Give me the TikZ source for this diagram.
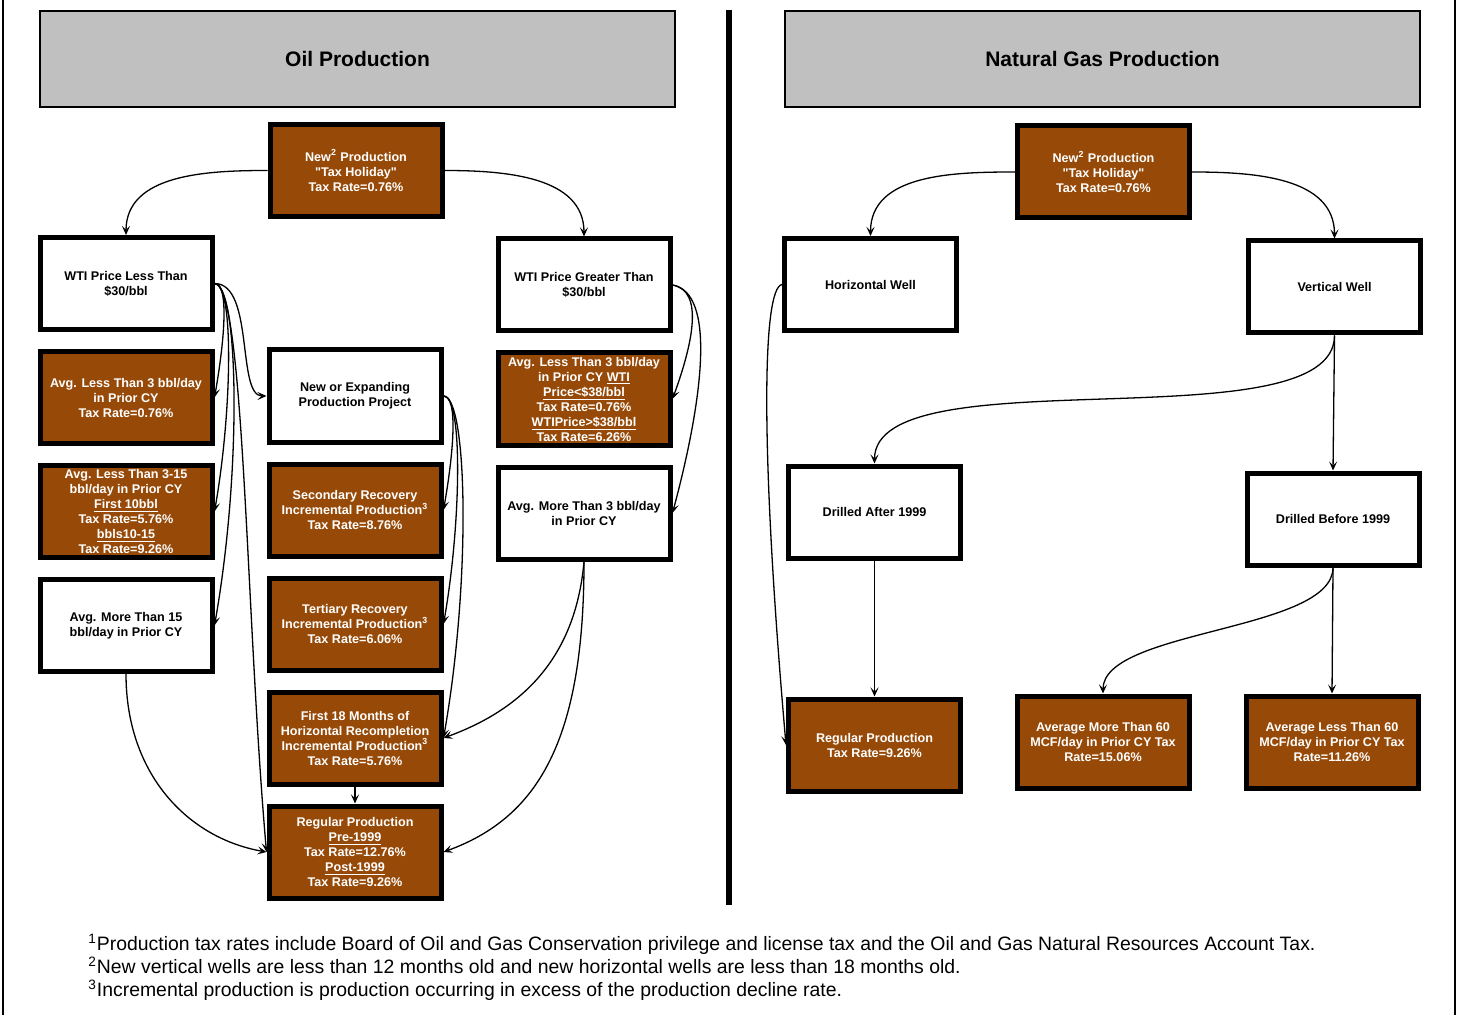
\documentclass[tikz,border=0pt]{standalone}
\usepackage{fontspec}
\setmainfont{Liberation Sans}[Ligatures=TeXOff]
\usepackage{xcolor}
\usepackage{tikz}
\usetikzlibrary{arrows.meta,positioning}

\definecolor{rustfill}{HTML}{974A08}
\definecolor{headgray}{HTML}{C0C0C0}

\begin{document}
\begin{tikzpicture}[
    x=0.5pt, y=-0.5pt,
    node distance=8.5pt,
    box/.style={rectangle, draw=black, line width=2.5pt, align=center, inner sep=1pt, minimum width=86pt, minimum height=46pt, font=\fontsize{6.3}{7.5}\selectfont\bfseries},
    brownbox/.style={box, fill=rustfill, text=white},
    whitebox/.style={box, fill=white, text=black},
    headbox/.style={rectangle, draw=black, line width=1pt, fill=headgray, minimum width=317.5pt, minimum height=48pt, font=\fontsize{10.5}{12}\selectfont\bfseries},
    arrow/.style={-{Stealth[length=4.5pt, width=4pt, inset=2pt]}, line width=0.65pt}
]
    \useasboundingbox (0,0) rectangle (1459,1015);
    \draw [line width=1pt] (3,0) -- (3,1015);
    \draw [line width=1pt] (1455,0) -- (1455,1015);
    \draw [line width=3pt] (729,10) -- (729,905);

    % headers
    \node [headbox] (oilhead) at (357.5,59) {Oil Production};
    \node [headbox] (gashead) at (1102.5,59) {Natural Gas Production};

    % oil side
    \node [brownbox] (oilnew) at (356,170.5) {New\textsuperscript{2} Production\\"Tax Holiday"\\Tax Rate=0.76\%};
    \node [whitebox] (wtiless) at (126,283.5) {WTI Price Less Than\\\$30/bbl};
    \node [brownbox, below=of wtiless] (lessthree) {Avg. Less Than 3 bbl/day\\in Prior CY\\Tax Rate=0.76\%};
    \node [brownbox, below=of lessthree] (rangebox) {Avg. Less Than 3-15\\bbl/day in Prior CY\\\underline{First 10bbl}\\Tax Rate=5.76\%\\\underline{bbls10-15}\\Tax Rate=9.26\%};
    \node [whitebox, below=of rangebox] (morefifteen) {Avg. More Than 15\\bbl/day in Prior CY};

    \node [whitebox] (newexp) at (355,396) {New or Expanding\\Production Project};
    \node [brownbox, below=of newexp] (secondary) {Secondary Recovery\\Incremental Production\textsuperscript{3}\\Tax Rate=8.76\%};
    \node [brownbox, below=of secondary] (tertiary) {Tertiary Recovery\\Incremental Production\textsuperscript{3}\\Tax Rate=6.06\%};
    \node [brownbox, below=of tertiary] (horizrec) {First 18 Months of\\Horizontal Recompletion\\Incremental Production\textsuperscript{3}\\Tax Rate=5.76\%};
    \node [brownbox, below=of horizrec] (oilregular) {Regular Production\\\underline{Pre-1999}\\Tax Rate=12.76\%\\\underline{Post-1999}\\Tax Rate=9.26\%};

    \node [whitebox] (wtimore) at (584,285) {WTI Price Greater Than\\\$30/bbl};
    \node [brownbox, below=of wtimore] (wtilowbox) {Avg. Less Than 3 bbl/day\\in Prior CY \underline{WTI}\\\underline{Price<\$38/bbl}\\Tax Rate=0.76\%\\\underline{WTIPrice>\$38/bbl}\\Tax Rate=6.26\%};
    \node [whitebox, below=of wtilowbox] (morethree) {Avg. More Than 3 bbl/day\\in Prior CY};

    % gas side
    \node [brownbox] (gasnew) at (1103.5,172) {New\textsuperscript{2} Production\\"Tax Holiday"\\Tax Rate=0.76\%};
    \node [whitebox] (horiz) at (870.5,284.5) {Horizontal Well};
    \node [whitebox] (vert) at (1334.5,287) {Vertical Well};
    \node [whitebox] (after) at (874.5,512) {Drilled After 1999};
    \node [whitebox] (before) at (1333,519) {Drilled Before 1999};
    \node [brownbox] (gasregular) at (874.5,745) {Regular Production\\Tax Rate=9.26\%};
    \node [brownbox] (moresixty) at (1103,742) {Average More Than 60\\MCF/day in Prior CY Tax\\Rate=15.06\%};
    \node [brownbox] (lesssixty) at (1332,742) {Average Less Than 60\\MCF/day in Prior CY Tax\\Rate=11.26\%};

    % footnotes
    \node [anchor=west, align=left, inner sep=0pt, font=\fontsize{9.7}{11.5}\selectfont] (notes) at (88,967)
        {\textsuperscript{1}Production tax rates include Board of Oil and Gas Conservation privilege and license tax and the Oil and Gas Natural Resources Account Tax.\\
         \textsuperscript{2}New vertical wells are less than 12 months old and new horizontal wells are less than 18 months old.\\
         \textsuperscript{3}Incremental production is production occurring in excess of the production decline rate.};

    % oil connectors
    \draw [arrow] (oilnew.west) to[out=180, in=90] (wtiless.north);
    \draw [arrow] (oilnew.east) to[out=0, in=90] (wtimore.north);
    \draw [arrow] (wtiless.east) to[out=0, in=80, out distance=8pt, in distance=25pt] (lessthree.east);
    \draw [arrow] (wtiless.east) to[out=0, in=80, out distance=10pt, in distance=50pt] (rangebox.east);
    \draw [arrow] (wtiless.east) to[out=0, in=80, out distance=12pt, in distance=80pt] (morefifteen.east);
    \draw [arrow] (wtiless.east) to[out=0, in=180, out distance=20pt, in distance=15pt] (newexp.west);
    \draw [arrow] (wtiless.east) to[out=0, in=95, out distance=15pt, in distance=120pt] (oilregular.west);
    \draw [arrow] (newexp.east) to[out=0, in=80, out distance=8pt, in distance=25pt] (secondary.east);
    \draw [arrow] (newexp.east) to[out=0, in=80, out distance=10pt, in distance=50pt] (tertiary.east);
    \draw [arrow] (newexp.east) to[out=0, in=80, out distance=12pt, in distance=80pt] (horizrec.east);
    \draw [arrow] (wtimore.east) to[out=-10, in=70, out distance=16pt, in distance=30pt] (wtilowbox.east);
    \draw [arrow] (wtimore.east) to[out=-10, in=75, out distance=22pt, in distance=60pt] (morethree.east);
    \draw [arrow] (morethree.south) to[out=-95, in=20, out distance=50pt, in distance=40pt] (horizrec.east);
    \draw [arrow] (morethree.south) to[out=-90, in=20, out distance=90pt, in distance=50pt] (oilregular.east);
    \draw [arrow] (morefifteen.south) to[out=-90, in=170, out distance=50pt, in distance=40pt] (oilregular.west);
    \draw [arrow] (horizrec.south) -- (oilregular.north);

    % gas connectors
    \draw [arrow] (gasnew.west) to[out=180, in=90] (horiz.north);
    \draw [arrow] (gasnew.east) to[out=0, in=90] (vert.north);
    \draw [arrow] (horiz.west) to[out=190, in=95, out distance=10pt, in distance=150pt] (gasregular.west);
    \draw [arrow] (vert.south) to[out=-90, in=90, out distance=55pt, in distance=55pt] (after.north);
    \draw [arrow] (vert.south) -- (before.north);
    \draw [arrow] (after.south) -- (gasregular.north);
    \draw [arrow] (before.south) to[out=-90, in=90, out distance=32pt, in distance=32pt] (moresixty.north);
    \draw [arrow] (before.south) -- (lesssixty.north);
\end{tikzpicture}
\end{document}
